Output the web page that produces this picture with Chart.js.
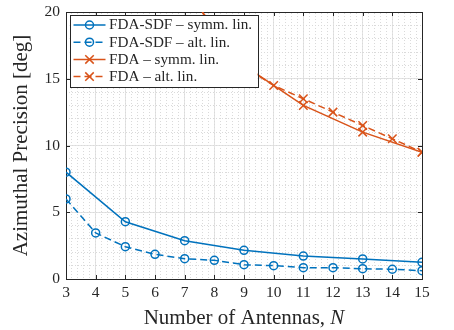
<!DOCTYPE html>
<html>
<head>
<meta charset="utf-8">
<script src="https://cdn.jsdelivr.net/npm/chart.js"></script>
<style>
  body { margin: 0; background: #fff; }
  canvas { display: block; }
</style>
</head>
<body>
<canvas id="precChart" width="454" height="330"></canvas>
<script>
// antenna counts
const nAll = [3, 4, 5, 6, 7, 8, 9, 10, 11, 12, 13, 14, 15];
const nOdd = [3, 5, 7, 9, 11, 13, 15];

// azimuthal precision [deg]
const sdfSymm = [8.0, 4.29, 2.87, 2.15, 1.72, 1.50, 1.25];
const sdfAlt = [6.0, 3.45, 2.42, 1.85, 1.52, 1.40, 1.07, 1.0, 0.85, 0.85, 0.77, 0.73, 0.62];
const fdaSymm = [null, null, 21.7, 16.0, 13.0, 11.0, 9.5];
const fdaAlt = [null, null, null, null, 23.0, 18.0, 15.9, 14.5, 13.5, 12.5, 11.5, 10.5, 9.5];

const xTicks = nAll;
const yTicks = [0, 5, 10, 15, 20];

const seriesNames = [
  "FDA-SDF \u2013 symm. lin.",
  "FDA-SDF \u2013 alt. lin.",
  "FDA \u2013 symm. lin.",
  "FDA \u2013 alt. lin."
];

const BLUE = "#0072BD";
const ORANGE = "#D95319";
const INK = "#262626";
const SERIF = "'Liberation Serif', 'Times New Roman', serif";

const toXY = (xs, ys) => xs.map((x, i) => ({ x: x, y: ys[i] }));

function makeSet(label, xs, ys, color, dashed, marker) {
  return {
    label: label,
    data: toXY(xs, ys),
    borderColor: color,
    backgroundColor: "rgba(0,0,0,0)",
    borderWidth: 1.5,
    borderDash: dashed ? [7, 4] : [],
    pointStyle: marker,
    pointRadius: marker === "circle" ? 4 : 6,
    pointBorderWidth: 1.5,
    pointBorderColor: color,
    pointBackgroundColor: "rgba(0,0,0,0)",
    tension: 0,
    spanGaps: false
  };
}

function noPad(s) {
  s.paddingTop = 0; s.paddingBottom = 0; s.paddingLeft = 0; s.paddingRight = 0;
}

// inward tick marks on all four sides, placed through the scales
const boxTicks = {
  id: "boxTicks",
  afterDraw(chart) {
    const { ctx, chartArea: a, scales } = chart;
    const len = 4;
    ctx.save();
    ctx.strokeStyle = INK;
    ctx.lineWidth = 1;
    ctx.beginPath();
    xTicks.forEach(v => {
      const px = Math.round(scales.x.getPixelForValue(v)) + 0.5;
      ctx.moveTo(px, a.bottom); ctx.lineTo(px, a.bottom - len);
      ctx.moveTo(px, a.top); ctx.lineTo(px, a.top + len);
    });
    yTicks.forEach(v => {
      const py = Math.round(scales.y.getPixelForValue(v)) + 0.5;
      ctx.moveTo(a.left, py); ctx.lineTo(a.left + len, py);
      ctx.moveTo(a.right, py); ctx.lineTo(a.right - len, py);
    });
    ctx.stroke();

    // x axis title with italic N
    const t1 = "Number of Antennas, ";
    const t2 = "N";
    ctx.fillStyle = INK;
    ctx.textBaseline = "middle";
    ctx.font = "21px " + SERIF;
    const w1 = ctx.measureText(t1).width;
    ctx.font = "italic 21px " + SERIF;
    const w2 = ctx.measureText(t2).width;
    const cx = (a.left + a.right) / 2;
    const ty = 318;
    ctx.textAlign = "left";
    ctx.font = "21px " + SERIF;
    ctx.fillText(t1, cx - (w1 + w2) / 2, ty);
    ctx.font = "italic 21px " + SERIF;
    ctx.fillText(t2, cx - (w1 + w2) / 2 + w1, ty);
    ctx.restore();
  }
};

// boxed legend in the upper left corner of the axes
const boxLegend = {
  id: "boxLegend",
  afterDatasetsDraw(chart) {
    const { ctx, chartArea: a } = chart;
    const left = a.left + 3.5, top = a.top + 3;
    const w = 188, h = 72;
    ctx.save();
    ctx.fillStyle = "#fff";
    ctx.fillRect(left, top, w, h);
    ctx.strokeStyle = INK;
    ctx.lineWidth = 1;
    ctx.strokeRect(Math.round(left) + 0.5, Math.round(top) + 0.5, Math.round(w), Math.round(h));
    ctx.font = "15.2px " + SERIF;
    ctx.textBaseline = "middle";
    chart.data.datasets.forEach((ds, i) => {
      const y = top + 10 + i * 17.2;
      ctx.strokeStyle = ds.borderColor;
      ctx.lineWidth = ds.borderWidth;
      ctx.setLineDash(ds.borderDash);
      ctx.beginPath();
      ctx.moveTo(left + 4, y);
      ctx.lineTo(left + 36, y);
      ctx.stroke();
      ctx.setLineDash([]);
      ctx.fillStyle = "rgba(0,0,0,0)";
      Chart.helpers.drawPoint(ctx, {
        pointStyle: ds.pointStyle,
        radius: ds.pointRadius,
        borderWidth: ds.pointBorderWidth,
        rotation: 0
      }, left + 20, y);
      ctx.fillStyle = INK;
      ctx.fillText(ds.label, left + 39.5, y + 0.5);
    });
    ctx.restore();
  }
};

const ctx = document.getElementById("precChart").getContext("2d");
new Chart(ctx, {
  type: "line",
  data: {
    datasets: [
      makeSet(seriesNames[0], nOdd, sdfSymm, BLUE, false, "circle"),
      makeSet(seriesNames[1], nAll, sdfAlt, BLUE, true, "circle"),
      makeSet(seriesNames[2], nOdd, fdaSymm, ORANGE, false, "crossRot"),
      makeSet(seriesNames[3], nAll, fdaAlt, ORANGE, true, "crossRot")
    ]
  },
  options: {
    responsive: false,
    animation: false,
    devicePixelRatio: 1,
    layout: { padding: { top: 12, right: 32, left: 0, bottom: 0 } },
    plugins: {
      legend: { display: false },
      tooltip: { enabled: false }
    },
    scales: {
      x: {
        type: "linear",
        position: "bottom",
        min: 3,
        max: 15,
        afterBuildTicks: s => { s.ticks = xTicks.map(v => ({ value: v })); },
        afterFit: s => { s.height = 51; noPad(s); },
        ticks: { color: INK, font: { family: SERIF, size: 15.5 }, padding: 5, maxRotation: 0, autoSkip: false },
        grid: { color: "#e3e3e3", lineWidth: 1, drawTicks: false },
        border: { display: true, color: INK, width: 1 }
      },
      xMinor: {
        type: "linear",
        position: "top",
        min: 3,
        max: 15,
        ticks: { display: false, stepSize: 0.2 },
        afterFit: s => { s.height = 0; noPad(s); },
        grid: { color: "#dadada", lineWidth: 1, drawTicks: false },
        border: { display: true, color: INK, width: 1, dash: [1, 2] }
      },
      y: {
        type: "linear",
        position: "left",
        min: 0,
        max: 20,
        afterBuildTicks: s => { s.ticks = yTicks.map(v => ({ value: v })); },
        afterFit: s => { s.width = 66; noPad(s); },
        ticks: { color: INK, font: { family: SERIF, size: 15.5 }, padding: 6 },
        grid: { color: "#e3e3e3", lineWidth: 1, drawTicks: false },
        border: { display: true, color: INK, width: 1 },
        title: {
          display: true,
          text: "Azimuthal Precision [deg]",
          color: INK,
          font: { family: SERIF, size: 21 },
          padding: { top: 9, bottom: 0 }
        }
      },
      yMinor: {
        type: "linear",
        position: "right",
        min: 0,
        max: 20,
        ticks: { display: false, stepSize: 1 },
        afterFit: s => { s.width = 0; noPad(s); },
        grid: { color: "#dadada", lineWidth: 1, drawTicks: false },
        border: { display: true, color: INK, width: 1, dash: [1, 2] }
      }
    }
  },
  plugins: [boxLegend, boxTicks]
});
</script>
</body>
</html>
